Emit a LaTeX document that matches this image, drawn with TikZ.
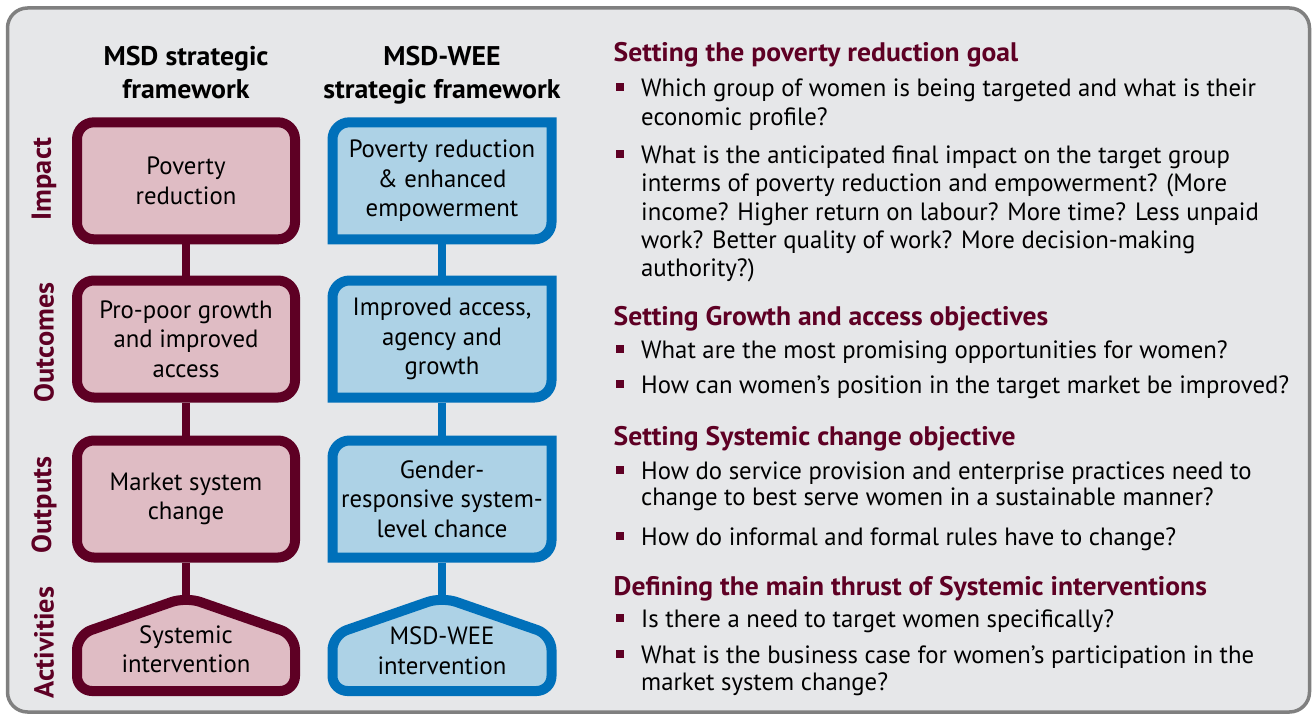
\documentclass[tikz,border=0pt]{standalone}
\usepackage{fontspec}
\setmainfont{PT Sans}[FakeStretch=0.99]
\newfontfamily\headfont{PT Sans}[FakeStretch=1.03]
\usetikzlibrary{backgrounds}
\definecolor{msdred}{RGB}{94,0,36}
\definecolor{msdpink}{RGB}{223,188,196}
\definecolor{weeblue}{RGB}{0,112,186}
\definecolor{weelight}{RGB}{173,210,230}
\definecolor{panelbg}{RGB}{230,231,233}
\definecolor{framegray}{RGB}{128,128,128}
\newcommand\ts{\rule{0pt}{20pt}}
\begin{document}
\begin{tikzpicture}[x=1pt,y=-1pt,
  boxfont/.style={font=\fontsize{25}{29.5}\selectfont},
  redbox/.style={boxfont, draw=msdred, fill=msdpink, line width=10pt, rounded corners=17pt,
    minimum width=218pt, minimum height=117pt, inner sep=0pt, align=center},
  bluenode/.style={boxfont, minimum width=218pt, minimum height=117pt, inner sep=0pt,
    outer sep=5pt, align=center},
  blueshape/.style={draw=weeblue, fill=weelight, line width=10pt},
  redshape/.style={draw=msdred, fill=msdpink, line width=10pt},
  pentext/.style={boxfont, inner sep=0pt, align=center},
  redlink/.style={draw=msdred, line width=8pt},
  bluelink/.style={draw=weeblue, line width=8pt},
  colhead/.style={font=\headfont\fontsize{27}{33.3}\selectfont\bfseries, align=center, anchor=north, inner sep=0pt},
  sidelab/.style={font=\headfont\fontsize{27.5}{30}\selectfont\bfseries, text=msdred, rotate=90, inner sep=0pt},
  sechead/.style={font=\headfont\fontsize{26.8}{30}\selectfont\bfseries, text=msdred, anchor=north west, inner sep=0pt},
  bodyA/.style={font=\fontsize{25}{28.3}\selectfont, align=left, anchor=north west, inner sep=0pt},
  bodyB/.style={font=\fontsize{25}{26}\selectfont, align=left, anchor=north west, inner sep=0pt},
  bodyC/.style={font=\fontsize{25}{26.7}\selectfont, align=left, anchor=north west, inner sep=0pt},
  bul/.style={fill=msdred, minimum size=8pt, inner sep=0pt}]
\useasboundingbox (0,0) rectangle (1312,717);

% column headings
\node[colhead] (hmsd) at (186,45) {\ts MSD strategic\\framework};
\node[colhead] (hwee) at (442,45) {\ts MSD-WEE\\strategic framework};

% side labels
\node[sidelab] (lImpact) at (44,179) {Impact};
\node[sidelab] (lOutcomes) at (44,342.5) {Outcomes};
\node[sidelab] (lOutputs) at (44,505) {Outputs};
\node[sidelab] (lActivities) at (44,642.5) {Activities};

% MSD column
\node[redbox] (r1) at (186,180.8) {Poverty\\reduction};
\node[redbox] (r2) at (186,339) {Pro-poor growth\\and improved\\access};
\node[redbox] (r3) at (186,499) {Market system\\change};
\draw[redshape, rounded corners=15pt] (186,597) -- (295,635) -- (295,691) -- (77,691) -- (77,635) -- cycle;
\node[pentext] (r4) at (186,649) {Systemic\\intervention};

% MSD-WEE column
\draw[blueshape] (332.5,239.3) -- (332.5,139.3) arc[start angle=180,end angle=270,radius=17] -- (551.5,122.3) -- (551.5,222.3) arc[start angle=0,end angle=90,radius=17] -- cycle;
\draw[blueshape] (332.5,397.5) -- (332.5,297.5) arc[start angle=180,end angle=270,radius=17] -- (551.5,280.5) -- (551.5,380.5) arc[start angle=0,end angle=90,radius=17] -- cycle;
\draw[blueshape] (332.5,557.5) -- (332.5,457.5) arc[start angle=180,end angle=270,radius=17] -- (551.5,440.5) -- (551.5,540.5) arc[start angle=0,end angle=90,radius=17] -- cycle;
\draw[blueshape, rounded corners=15pt] (442,597) -- (551.5,635) -- (551.5,691) -- (332.5,691) -- (332.5,635) -- cycle;
\node[bluenode] (b1) at (442,180.8) {Poverty reduction\\\& enhanced\\empowerment};
\node[bluenode] (b2) at (442,339) {Improved access,\\agency and\\growth};
\node[bluenode] (b3) at (442,499) {Gender-\\responsive system-\\level chance};
\node[pentext] (b4) at (442,650.5) {MSD-WEE\\intervention};

% right-hand text
\node[sechead] (s1) at (613.5,41.7) {\ts Setting the poverty reduction goal};
\node[bul] (q1) at (619.5,87.2) {};
\node[bodyA] (t1) at (641,76.7) {\ts Which group of women is being targeted and what is their\\economic profile?};
\node[bul] (q2) at (619.5,153.8) {};
\node[bodyA] (t2) at (641,143.3) {\ts What is the anticipated final impact on the target group\\interms of poverty reduction and empowerment? (More\\income? Higher return on labour? More time? Less unpaid\\work? Better quality of work? More decision-making\\authority?)};

\node[sechead] (s2) at (613.5,305.7) {\ts Setting Growth and access objectives};
\node[bul] (q3) at (619.5,348.5) {};
\node[bodyA] (t3) at (641,338) {\ts What are the most promising opportunities for women?};
\node[bul] (q4) at (619.5,383.8) {};
\node[bodyA] (t4) at (641,373.3) {\ts How can women’s position in the target market be improved?};

\node[sechead] (s3) at (613.5,425.7) {\ts Setting Systemic change objective};
\node[bul] (q5) at (619.5,469.5) {};
\node[bodyB] (t5) at (641,459) {\ts How do service provision and enterprise practices need to\\change to best serve women in a sustainable manner?};
\node[bul] (q6) at (619.5,535.5) {};
\node[bodyA] (t6) at (641,525) {\ts How do informal and formal rules have to change?};

\node[sechead] (s4) at (613.5,575.5) {\ts Defining the main thrust of Systemic interventions};
\node[bul] (q7) at (619.5,618) {};
\node[bodyA] (t7) at (641,607.5) {\ts Is there a need to target women specifically?};
\node[bul] (q8) at (619.5,654) {};
\node[bodyC] (t8) at (641,643.5) {\ts What is the business case for women’s participation in the\\market system change?};

\begin{pgfonlayer}{background}
  \draw[framegray, line width=3.5pt, fill=panelbg, rounded corners=20pt] (7.5,8) rectangle (1309.5,712);
  \draw[redlink] (r1.south) -- (r2.north);
  \draw[redlink] (r2.south) -- (r3.north);
  \draw[redlink] (r3.south) -- (r4.north);
  \draw[bluelink] (b1.south) -- (b2.north);
  \draw[bluelink] (b2.south) -- (b3.north);
  \draw[bluelink] (b3.south) -- (b4.north);
\end{pgfonlayer}
\end{tikzpicture}
\end{document}
